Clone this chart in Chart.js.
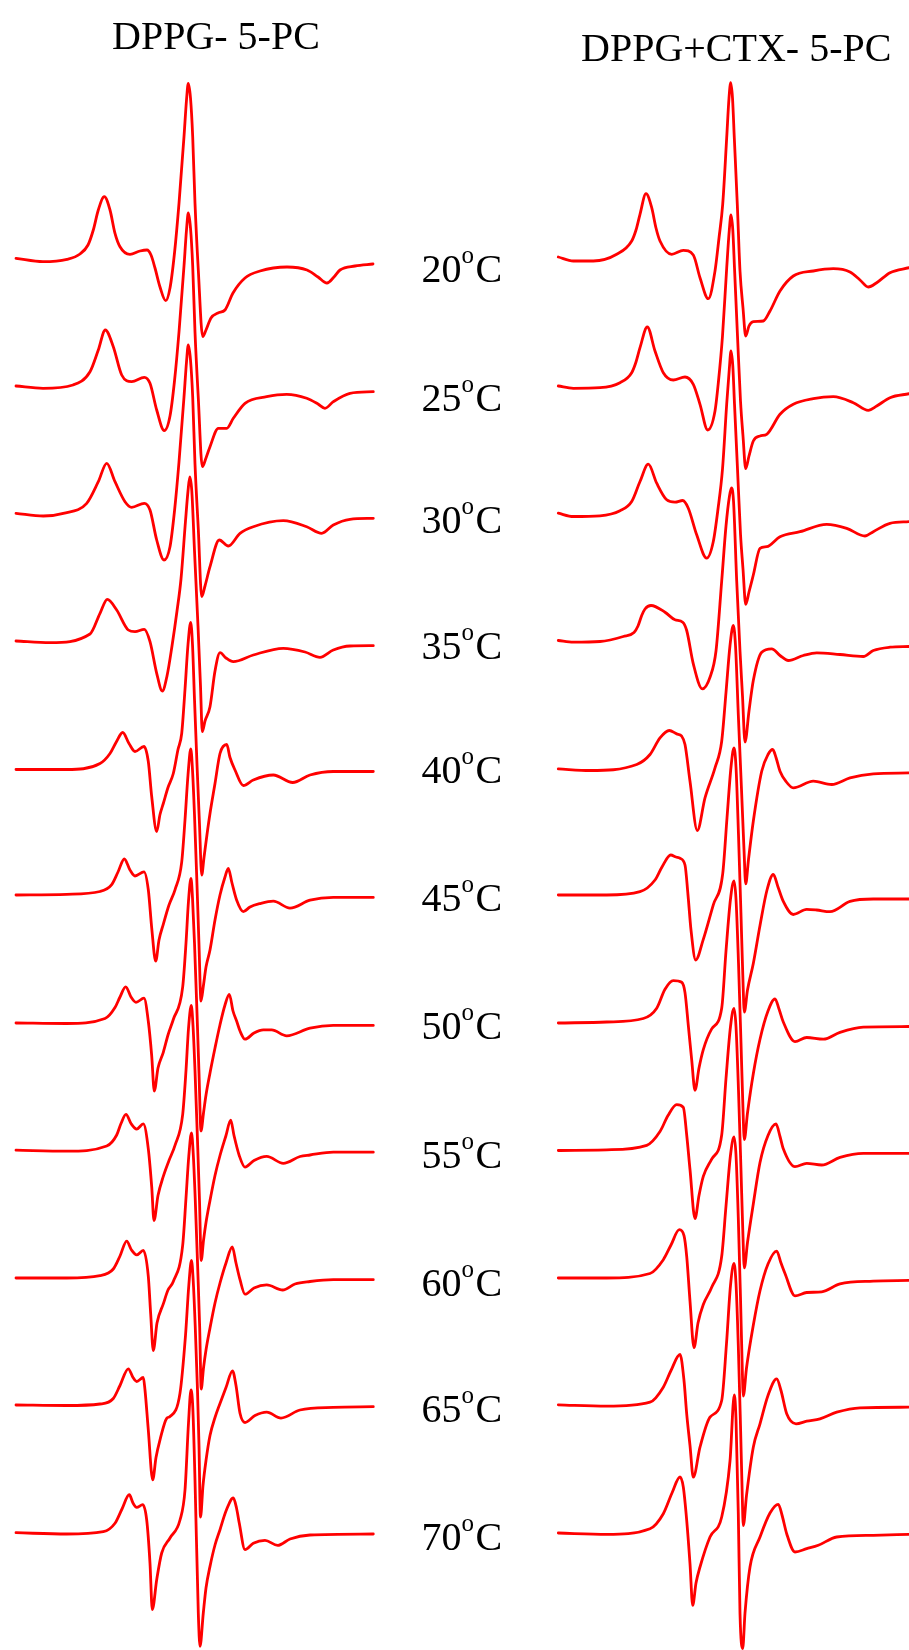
<!DOCTYPE html>
<html><head><meta charset="utf-8">
<script src="https://cdn.jsdelivr.net/npm/chart.js@4.4.1/dist/chart.umd.min.js"></script>
<style>html,body{margin:0;padding:0;background:#fff;}#wrap{width:909px;height:1650px;position:relative;}</style>
</head><body><div id="wrap"><canvas id="c" width="909" height="1650"></canvas></div>
<script>
// Temperatures (°C) and vertical stacking offsets of each trace
const temperatures = [20,25,30,35,40,45,50,55,60,65,70];
const offsets = [258,386,514,641,769.5,895,1023,1150.5,1278,1405.5,1533];
const labelLevels = [282.3,411.3,533.3,658.6,782.6,911,1039.4,1167.6,1296.1,1422.3,1549.6];
const panelTitles = ['DPPG- 5-PC','DPPG+CTX- 5-PC'];

// ---------- DPPG (left panel) : field position / signal ----------
const L20x=[16,43,67,80,88,93.3,98.3,104.3,110,115,120,130,140,147,151,155,160,165.7,170,174.5,179,184,186.5,188.3,190.5,192.7,195,198.3,202.7,206,211,218,225,233,245,260,287,307,318,327,334,340,355,373];
const L20y=[-0.3,-3.7,-1.3,4,13,28,48,61.3,48,24.7,11.3,3.7,7,8,3,-10,-29,-42.7,-30,5,54.7,121.3,158,174.7,160,121.3,54.7,-12,-78.7,-72,-60,-55,-52,-35,-20,-13,-9,-12,-19,-25,-19,-12,-8,-6];
const L25x=[16,43,73,90,98.3,105.3,113.3,121.7,131.7,144.3,150,156.7,164.3,170,174.5,179,184,186.5,188.3,190.5,192.7,195,198.3,202.3,206,210,218.3,226.7,233.3,245,266.7,286.7,306.7,318,325,333.3,350,373.3];
const L25y=[0,-2.3,1,14.3,36,56,39.3,11,4.3,8.7,2.7,-24,-44.7,-30,5,54,120,156,173,158,120,54,-12,-80.7,-72,-60.7,-42.3,-42.3,-32.3,-17.3,-10.7,-8.3,-12.3,-18,-22.3,-15.7,-7.3,-5.7];
const L30x=[16,43.3,63.3,86.7,98.3,106.7,115,125,131.7,144.3,150,156.7,164,170,174.5,179,184,186.5,188.3,190.5,192.7,195,198.3,201.7,205,210,219.3,228.3,240,253.3,283.3,306.7,321.7,333.3,350,373.3];
const L30y=[0.7,-2,0.7,10.7,32.3,50.7,32.3,12.3,6.7,10.7,4,-26,-46,-32.7,3,52,117,152,169,154,117,50,-15,-82.7,-72,-52.7,-26,-32,-19.3,-12.7,-6.7,-12.7,-19.3,-11,-5.3,-4.3];
const L35x=[16,50,90,100,107.3,116.7,128.3,135,144.3,150,156.7,162.3,167,172,177,181,185.5,188,189.8,191.8,194.5,198,200.5,202.3,205,210,215,220,226,233.3,253.3,283.3,305,320,333.3,350,373.3];
const L35y=[0,-1.7,7,27.7,41.7,31,11,9.3,11.7,-0.7,-32.3,-50,-35,-5,30,62,120,150,164,150,90,15,-45,-90.7,-80,-65.7,-30,-11.7,-17,-20.7,-14,-7.3,-11,-16.3,-9,-5,-4.7];
const L40x=[16,66.7,100,110,116,122.7,129,135,144,148.3,151.7,156.7,160,163.3,168,173.3,178,181.7,185,188,190.7,192.5,194.5,197,199.5,201.7,204,207,210,215,220,226.7,230,235,243.3,253.3,273.3,292.7,310,333.3,373.3];
const L40y=[0,0,6,16,27,37,26,18,23,8,-27,-62,-45,-34,-18,-4,20,36,80,125,147,125,70,5,-55,-105.5,-88,-65,-44,-14,16,25,12,-0.5,-16,-10.5,-5.5,-13,-5.5,-2,-2];
const L45x=[16,66.7,100,111.7,118,124.3,130,135,144,148.3,151.7,155.7,159,163.3,169,175,181.7,185,188,190.8,192.5,194.5,197,199,201,203.5,206,210,215,220,225,228.3,232,236.7,243.3,250,260,273.3,290,310,333.3,373.3];
const L45y=[0,0.7,3.5,10.4,23,36,25,19,23.1,5.2,-32.8,-66.2,-45,-29.3,-10,5.2,32.8,75,120,146,125,80,10,-50,-106,-90,-72,-55,-25,0,18,26.6,12,-5.2,-16.6,-12,-8.6,-6.2,-13.1,-5.2,-2.4,-2.4];
const L50x=[16,66.7,105,115,120,125.7,131,136,144,148.3,151.7,154.3,158,163.3,168,173.3,182.7,186,188.5,191,192.5,194.5,197,199,201,203.5,206,210,215,220,225,229.3,233,236.7,240,245,254,263.3,271.7,286.7,310,333.3,373.3];
const L50y=[0,-0.5,4.5,15.5,26,36.2,26,20.7,24.8,1.7,-32.8,-68,-45,-29.3,-12,3.5,36.2,80,122,144.5,125,80,10,-50,-108,-90,-72,-50,-25,-1.7,18,28.6,12,1.7,-8,-16.2,-10,-6.9,-6.9,-12.8,-5.2,-2.4,-2.4];
const L55x=[16,66.7,106.7,116.7,121,126,131,136.7,143.3,148.3,151.7,154,158,163.3,169,175,182.7,186,188.5,191.3,193,195,197.5,199.5,201.2,203.5,206,210,215,220,226,230.7,234,239.3,245,254,266.7,283.3,300,310,333.3,373.3];
const L55y=[0.3,-0.7,4.5,15.5,27,36.2,27,21.4,26.6,1.7,-36.2,-70,-45,-25.9,-10,5.2,36.2,80,122,145,125,80,10,-50,-110,-90,-72,-50,-25,-5,15,30.4,15,-5.2,-16.6,-10,-5.9,-12.8,-6,-4.5,-1.7,-1.7];
const L60x=[16,66.7,100,113.3,120,126.7,131.5,136.7,143.3,148.3,150.7,153.3,157,163.3,168,173.3,182.7,186,188.8,191.5,193.2,195.2,197.7,199.7,201.2,203.5,206,210,215,220,226,232.3,236,240,245,254,266.7,282.7,295,310,333.3,373.3];
const L60y=[0,0,2.3,9,22,36.9,28,23.1,27.6,1.7,-36.2,-72.5,-45,-25.9,-12,-3.5,32.8,80,122,145,125,80,10,-50,-111,-90,-72,-50,-25,-5,15,31,15,-1.7,-16.2,-10,-6.9,-12,-6,-3.5,-1.7,-1.7];
const L65x=[16,66.7,100,113.3,120,128.3,133,136.7,143.3,145,148.3,152.7,156,160,166.7,170,180,185.5,188.8,191.5,193.2,195.2,197.5,199,200.5,203,206,210,215,220,226,232.5,236,240,245,255,266.7,281,300,333.3,373.3];
const L65y=[0.5,0,1.5,7,20,36.7,28,24,28,15.5,-24.5,-74.3,-52,-34.3,-12.8,-11,12.4,70,120,145,125,80,15,-40,-111.6,-80,-55,-30,-12,2,18,34.7,20,-7.8,-17,-10,-6.6,-12.6,-4.5,-1.8,-1.2];
const L70x=[16,66.7,103.3,115,122,129.3,133,136.7,142.7,146.7,150,152.3,156.7,161.7,170,180,185,188.5,191,192.8,195,198.3,200,203.3,206,210,215,220,226,233.3,236.5,239.3,245,253.3,265,277.7,290,310,373.3];
const L70y=[0.3,-1,1.3,9.7,24,38.3,30,25.6,28.3,13,-30.3,-76.7,-46.7,-20,-5,13,43,110,143,125,53,-80,-113.4,-80,-55,-33.4,-12,3.3,22,35,25,9.7,-16.7,-10.3,-7.4,-12.4,-6,-2,-1];

// ---------- DPPG+CTX (right panel) ----------
const R20x=[558.3,573.3,593.3,616.7,631.7,636,640,646,651.7,656,660,671.7,683.3,693.3,700,708.3,715,719,722.7,726.7,729,730.7,732.5,734.3,737.3,740,743,745.7,749,753.3,763.3,770,780,793.3,813.3,833.3,850,860,868.3,876.7,890,909];
const R20y=[1,-3,-3,3.7,17,28,43.7,64.3,50.3,30,17,3.7,7.7,3,-19.7,-40.7,-13,20,53.7,120.3,160,175.3,160,120.3,53.7,-13,-50,-78,-68,-63.7,-63,-53,-33,-18,-13,-10.7,-14,-22,-29,-24.7,-14.7,-9.7];
const R25x=[558.3,573.3,600,620,631.7,636,640,647.3,655,663.3,673.3,685,693.3,700,707.7,715,718.5,722.5,726.7,729.3,731,732.8,734.5,737.5,740.5,743,745.7,749,753.3,760,766.7,780,793.3,813.3,833.3,853.3,868.3,876.7,890,909];
const R25y=[0,-2.3,-1.7,3.3,13.3,24,38.3,59,35,13.3,6,9,1.7,-18.3,-44,-25,5,50,118,156,171,156,118,50,-15,-50,-82.7,-70,-55,-50,-48.3,-28.3,-18.3,-12.7,-10.7,-16.7,-24.3,-20,-11.7,-7.7];
const R30x=[558.3,573.3,600,620,631.7,640,648.3,656.7,666.7,675,682.7,688.3,696.7,706.7,713.3,718,722.5,726.7,729.3,731,732.8,734.5,737.5,740.5,743,745.7,749,753.3,760,766.7,780,800,826.7,846.7,865,873.3,890,909];
const R30y=[0.8,-2.5,-1.8,3.2,12.5,32.5,49.8,30.8,14.2,11.8,13.5,5.8,-20.8,-44.2,-27.5,5,45,110,145,163,148,110,45,-20,-55,-90.3,-78,-61,-34.3,-32.7,-22.7,-17.7,-10.3,-14.3,-22,-17.7,-9.3,-7.7];
const R35x=[558.3,573.3,600,623.3,634,638,641.7,645,651,665,675,682.7,686.7,693.3,702.3,710,716,721.7,726,729.5,731.5,733.5,736.7,740,742.5,745,749,753.3,761.7,771.7,780,788.3,803.3,816.7,840,863.3,873.3,890,909];
const R35y=[0.5,-1.2,-0.5,4.5,8.5,15,25.5,32,35.5,28.8,21.2,18.8,10.5,-22.8,-47.8,-36.2,-10,60,115,145,153,140,60,-10,-55,-101,-70,-39.5,-11.2,-7.8,-14.5,-19.5,-14.5,-11.8,-13.5,-15.5,-9.5,-6.2,-5.5];
const R40x=[558.3,590,636.7,650,660,669.3,676.7,681.7,685,690,697.3,705,715,721.7,726,730,733.3,735.5,738.3,741.5,744,745.7,748.5,753.3,761.7,768,772.7,776,780,786,793.3,813.3,831.7,850,873.3,909];
const R40y=[0.6,-1,5,15,31.6,39,35.6,33.3,25,-11.7,-61,-28.4,1.6,28.3,77,124,144,124,55,-20,-80,-114.4,-90,-51.7,-1.7,15,20,12,-1.7,-12,-18.4,-11.7,-15,-8.4,-4.4,-3.4];
const R45x=[558.3,606.7,640,655,662,670.7,676,680,685,688,691,695.7,703.3,713.3,722.7,727,731,734,736,738.5,741,742.8,744.3,747.5,753.3,760,767,773.3,778,783.3,793.3,806.7,816.7,830,850,873.3,909];
const R45y=[0,0,3.3,15,28,40,38,36.7,30,0,-35,-65,-44.4,-9.8,21.2,77,128,147,128,60,-20,-80,-117,-95,-68.5,-30.5,5,20.5,8,-6.4,-19.5,-14.3,-15,-16.7,-6.4,-4,-4];
const R50x=[558.3,606.7,643.3,656.7,665,673.3,681.7,685,688.3,691.7,695,699,703.3,711.7,721.7,726,730.5,734,736,738.5,741,742.8,744.3,747.5,753.3,760,768,775,779,783.3,795,806.7,823.3,840,863.3,909];
const R50y=[0,1,4.5,14.8,33.8,42.4,40.7,30.4,-2.4,-36.9,-67.3,-45,-26.6,-5.9,14.8,72,124,142,124,60,-20,-80,-116.5,-90,-50.7,-16.2,12,24.2,14,1,-18.6,-14.5,-16.2,-9.3,-4.1,-3.5];
const R55x=[558.3,606.7,646.7,660,668,676.7,683.3,686.7,690,695,699,703.3,711.7,721.7,726,730.5,734,736,738.5,741,742.8,744.3,747.5,753.3,760,768,776,780,783.3,795,806.7,821.7,840,863.3,909];
const R55y=[0,0.7,5.2,19,35,45.9,43.1,15.5,-19,-68,-45,-25.9,-8.6,15.5,72,124,142,124,60,-20,-80,-117.3,-92,-53.5,-12,15,26.6,14,1.7,-16.2,-12.8,-14.5,-6.9,-2.8,-2.8];
const R60x=[558.3,606.7,650,663.3,671,679.3,684,686.7,690,694,698,703.3,711.7,721.7,726,730.5,734,736,738.3,740.5,742,743.3,746.5,753.3,760,768,776.7,781,785,795,806.7,821.7,840,873.3,909];
const R60y=[0,0,4.5,18.3,33,48.3,42.4,21.7,-23.1,-69.7,-45,-26.6,-9.3,21.7,72,123,141,123,60,-20,-80,-118,-90,-47.3,-12.8,14,26.9,15,4.5,-17.9,-14.5,-13.8,-5.9,-3.1,-2.4];
const R65x=[558.3,606.7,650,663.3,671,680,684,686.7,690,693.3,700,710,721.7,726.5,730.5,734,736,738.3,740.5,742,743.3,746.5,753.3,760,768,776.7,781,786.7,796,806.7,820,836.7,860,909];
const R65y=[0.7,-0.7,3.3,18.3,35,51,25,-8.3,-40,-71.7,-41.7,-11.7,5,62,120,142,122,60,-20,-80,-120,-90,-41.7,-18.3,10,26.7,15,-8.3,-18.3,-15.7,-13.3,-6.7,-2.3,-1.7];
const R70x=[558.3,606.7,650,663.3,672,680,683.3,686.7,690,692.7,696,700,710,721.7,730,734.3,736,738.3,740,742.7,745,750,760,770,778.3,782,786.7,795,806.7,818.3,836.7,873.3,909];
const R70y=[0,-1.3,4.3,19.3,40,56,46,12.7,-30.7,-72.3,-50,-34,-4,16,72,138,114,19.4,-80.6,-115.6,-80,-34,-4,20,28.7,18,-0.7,-19,-15.7,-12.3,-4,-2.3,-1.3];

const leftX=[L20x,L25x,L30x,L35x,L40x,L45x,L50x,L55x,L60x,L65x,L70x];
const leftY=[L20y,L25y,L30y,L35y,L40y,L45y,L50y,L55y,L60y,L65y,L70y];
const rightX=[R20x,R25x,R30x,R35x,R40x,R45x,R50x,R55x,R60x,R65x,R70x];
const rightY=[R20y,R25y,R30y,R35y,R40y,R45y,R50y,R55y,R60y,R65y,R70y];

function trace(xs, ys, off){
  const n=Math.min(xs.length, ys.length), p=[];
  for(let i=0;i<n;i++) p.push({x:xs[i], y:ys[i]-off});
  return p;
}
const datasets=[];
temperatures.forEach((t,i)=>{
  datasets.push({label:'DPPG '+t, data:trace(leftX[i],leftY[i],offsets[i])});
  datasets.push({label:'DPPG+CTX '+t, data:trace(rightX[i],rightY[i],offsets[i])});
});
datasets.forEach(d=>Object.assign(d,{borderColor:'#ff0000',borderWidth:2.8,pointRadius:0,fill:false,cubicInterpolationMode:'monotone',borderJoinStyle:'round',borderCapStyle:'round'}));

const textPlugin={
  id:'texts',
  afterDatasetsDraw(chart){
    const ctx=chart.ctx, xs=chart.scales.x, ys=chart.scales.y;
    ctx.save();
    ctx.fillStyle='#000';
    ctx.textBaseline='alphabetic';
    ctx.textAlign='left';
    ctx.font='40px "Liberation Serif", "Times New Roman", serif';
    ctx.fillText(panelTitles[0], xs.getPixelForValue(112), ys.getPixelForValue(-49.3));
    ctx.fillText(panelTitles[1], xs.getPixelForValue(581), ys.getPixelForValue(-60.5));
    temperatures.forEach((t,i)=>{
      const y=ys.getPixelForValue(-labelLevels[i]);
      let x=xs.getPixelForValue(421.5);
      ctx.font='40px "Liberation Serif", "Times New Roman", serif';
      const num=String(t);
      ctx.fillText(num,x,y);
      x+=ctx.measureText(num).width;
      ctx.font='25px "Liberation Serif", "Times New Roman", serif';
      ctx.fillText('o',x,y-19);
      x+=ctx.measureText('o').width+1.5;
      ctx.font='40px "Liberation Serif", "Times New Roman", serif';
      ctx.fillText('C',x,y);
    });
    ctx.restore();
  }
};

new Chart(document.getElementById('c'),{
  type:'line',
  data:{datasets},
  options:{
    responsive:false, animation:false, devicePixelRatio:1,
    layout:{padding:0},
    plugins:{legend:{display:false},tooltip:{enabled:false},title:{display:false}},
    scales:{
      x:{type:'linear',min:0,max:909,display:false},
      y:{type:'linear',min:-1650,max:0,display:false}
    }
  },
  plugins:[textPlugin]
});
</script></body></html>
